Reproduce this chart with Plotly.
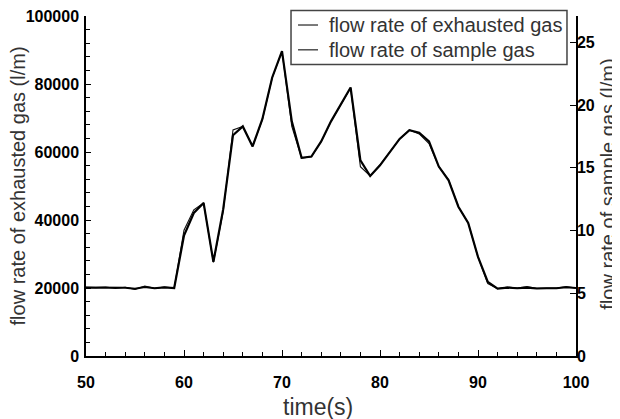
import plotly.graph_objects as go

time_s = list(range(50, 101))
exhausted_gas = [20200, 20100, 20300, 19900, 20200, 19600, 20600, 19900, 20300, 20000,
                 37000, 43000, 45000, 27500, 42500, 66500, 67500, 61600, 69500, 81800,
                 89600, 67500, 58200, 58600, 63100, 69000, 73900, 78800, 55700, 52950,
                 56200, 60100, 63800, 66500, 65300, 62500, 55700, 51800, 43900, 39100,
                 29100, 21300, 19800, 20300, 20000, 20400, 19900, 20000, 20000, 20400,
                 20000]
sample_gas = [5.45, 5.44, 5.44, 5.42, 5.44, 5.36, 5.50, 5.40, 5.47, 5.42,
              9.6, 11.4, 12.2, 7.5, 11.7, 17.6, 18.3, 16.7, 18.9, 22.2,
              24.3, 18.7, 15.8, 15.9, 17.1, 18.7, 20.0, 21.4, 15.6, 14.35,
              15.2, 16.3, 17.3, 18.0, 17.8, 17.1, 15.1, 14.0, 11.9, 10.6,
              7.9, 5.9, 5.37, 5.45, 5.40, 5.45, 5.38, 5.40, 5.40, 5.48,
              5.42]

names = ["flow rate of exhausted gas", "flow rate of sample gas"]
x_title = "time(s)"
y_title = "flow rate of exhausted gas (l/m)"
y2_title = "flow rate of sample gas (l/m)"

FONT = "Liberation Sans, Arial, sans-serif"
line_styles = [dict(color="#111111", width=1.1), dict(color="#000000", width=2.2)]

fig = go.Figure()
fig.add_trace(go.Scatter(x=time_s, y=exhausted_gas, name=names[0], mode="lines",
                         line=line_styles[0]))
fig.add_trace(go.Scatter(x=time_s, y=sample_gas, name=names[1], mode="lines",
                         line=line_styles[1], yaxis="y2"))

tickfont = dict(family=FONT, size=16, color="#000000", weight="bold")
titlefont = dict(family=FONT, size=20, color="#333333")

# manual legend (box, short line samples, labels) in paper coordinates
legend_box = dict(x0=0.4184, x1=0.9816, y0=0.857, y1=1.0165)
legend_rows_y = [0.9735, 0.9005]
shapes = [dict(type="rect", xref="paper", yref="paper", **legend_box,
               line=dict(color="#444444", width=1.5), fillcolor="white", layer="above")]
annotations = []
for i, nm in enumerate(names):
    shapes.append(dict(type="line", xref="paper", yref="paper", x0=0.4327, x1=0.4735,
                       y0=legend_rows_y[i], y1=legend_rows_y[i],
                       line=dict(color="#222222", width=1.2), layer="above"))
    annotations.append(dict(text=nm, xref="paper", yref="paper", x=0.4918, y=legend_rows_y[i],
                            xanchor="left", yanchor="middle", showarrow=False,
                            font=titlefont))

annotations += [
    dict(text=x_title, xref="paper", yref="paper", x=0.4735, y=-0.150,
         xanchor="center", yanchor="middle", showarrow=False,
         font=dict(family=FONT, size=23, color="#333333")),
    dict(text=y_title, xref="paper", yref="paper", x=-0.1378, y=0.5,
         xanchor="center", yanchor="middle", showarrow=False, textangle=-90,
         font=titlefont),
    dict(text=y2_title, xref="paper", yref="paper", x=1.066, y=0.505,
         xanchor="center", yanchor="middle", showarrow=False, textangle=-90,
         font=titlefont),
]

# the page body adds an 8px offset; the figure is sized so that the plot lands
# where it sits in the reference
fig.update_layout(
    width=612, height=411,
    margin=dict(l=78, r=44, t=8, b=63),
    paper_bgcolor="white", plot_bgcolor="white",
    showlegend=False,
    shapes=shapes,
    annotations=annotations,
    xaxis=dict(range=[50, 100], tick0=50, dtick=10, ticks="inside", ticklen=6,
               tickwidth=1.2, tickcolor="black",
               minor=dict(dtick=2, ticks="inside", ticklen=4, tickwidth=1, tickcolor="black"),
               showline=True, linecolor="black", linewidth=1.5, showgrid=False,
               zeroline=False, tickfont=tickfont, ticklabelstandoff=11,
               ticklabeloverflow="allow", automargin=False),
    yaxis=dict(range=[0, 100000], dtick=20000, tickformat="d", ticks="inside", ticklen=5,
               tickwidth=1.2, tickcolor="black",
               minor=dict(dtick=4000, ticks="inside", ticklen=4, tickwidth=1, tickcolor="black"),
               showline=True, linecolor="black", linewidth=1.5, showgrid=False,
               zeroline=False, tickfont=tickfont, ticklabelstandoff=2,
               ticklabeloverflow="allow", automargin=False),
    yaxis2=dict(range=[0, 27.1], dtick=5, ticks="inside", ticklen=6, tickwidth=1.2,
                tickcolor="black", overlaying="y", side="right",
                showline=True, linecolor="black", linewidth=1.5, showgrid=False,
                zeroline=False, tickfont=tickfont, ticklabelstandoff=-4,
                ticklabeloverflow="allow", automargin=False),
)

fig.write_html("out.html")
